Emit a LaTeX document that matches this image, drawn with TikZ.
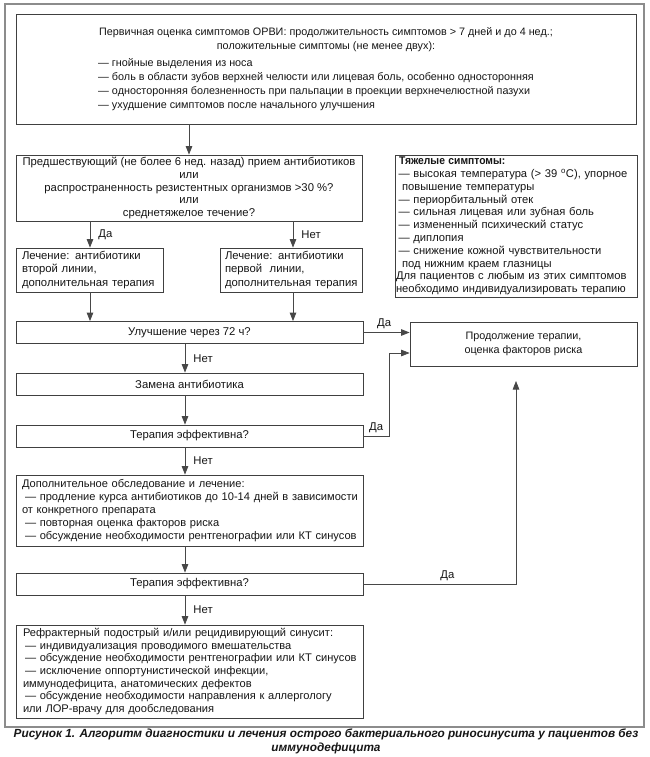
\documentclass[tikz,border=0pt]{standalone}
\usepackage{fontspec}
\usepackage{graphicx}
\setmainfont{Liberation Sans}
\usetikzlibrary{arrows.meta}
\definecolor{boxc}{HTML}{404040}
\definecolor{linec}{HTML}{474747}
\definecolor{framec}{HTML}{8C8C8C}
\definecolor{txtc}{HTML}{161616}
\newcommand\fs{\fontsize{11.3}{13.5}\selectfont}
\newcommand\fst{\fontsize{10.8}{13.8}\selectfont}
\newcommand\fsq{\fontsize{11.3}{12.6}\selectfont}
\newcommand\fsv{\fontsize{11.2}{12.8}\selectfont}
\newcommand\fsr{\fontsize{11.1}{13.2}\selectfont}
\newcommand\fsrr{\fontsize{11.1}{12.7}\selectfont}
\newcommand\fsc{\fontsize{10.8}{13.2}\selectfont}
\newcommand\fcap{\fontsize{11.8}{14}\selectfont\bfseries\itshape}
\begin{document}
\begin{tikzpicture}[x=1pt,y=-1pt,
  box/.style={draw=boxc, line width=0.8pt, inner sep=0pt, text=txtc, font=\fs},
  txt/.style={inner sep=0pt, text=txtc, font=\fst},
  arr/.style={draw=linec, line width=0.9pt, -{Triangle[length=8.5pt,width=6.5pt]}},
  thinarr/.style={draw=linec, line width=0.7pt, -{Triangle[length=8.5pt,width=6.5pt]}},
  lbl/.style={inner sep=0pt, text=txtc, font=\fs}]
\useasboundingbox (0,0) rectangle (650,757);
\fill[white] (0,0) rectangle (650,757);
% outer frame
\draw[framec, line width=1.6pt] (5,4) rectangle (644,727);

% top box
\node[box, minimum width=620, minimum height=110] (top) at (326,69) {};
\node[txt, align=center] (topA) at (326,39.5) {Первичная оценка симптомов ОРВИ: продолжительность симптомов > 7 дней и до 4 нед.;\\положительные симптомы (не менее двух):};
\node[txt, align=left, anchor=north west] (topB) at (98,58.5) {— гнойные выделения из носа\\— боль в области зубов верхней челюсти или лицевая боль, особенно односторонняя\\— односторонняя болезненность при пальпации в проекции верхнечелюстной пазухи\\— ухудшение симптомов после начального улучшения};

% question box
\node[box, font=\fsq, align=center, minimum width=346, minimum height=66] (q) at (189,188) {Предшествующий (не более 6 нед. назад) прием антибиотиков\\или\\распространенность резистентных организмов >30 \%?\\или\\среднетяжелое течение?};

% treatment boxes
\node[box, align=left, inner xsep=1pt, text width=145, minimum width=147, minimum height=44] (t2) at (89.5,270) {\hspace*{5pt}Лечение: антибиотики\\\hspace*{5pt}второй линии,\\\hspace*{5pt}дополнительная терапия};
\node[box, align=left, inner xsep=1pt, text width=140, minimum width=142, minimum height=44] (t1) at (291,270) {\hspace*{4pt}Лечение: антибиотики\\\hspace*{4pt}первой\ \ линии,\\\hspace*{4pt}дополнительная терапия};

% severe symptoms box
\node[box, font=\fsv, align=left, inner xsep=1pt, text width=240, minimum width=242, minimum height=142] (sev) at (516,226) {\hspace*{3pt}\scalebox{0.92}[1]{\bfseries Тяжелые симптомы:}\\
\hspace*{2.5pt}— высокая температура (> 39 \textsuperscript{o}C), упорное\\
\hspace*{6pt}повышение температуры\\
\hspace*{2.5pt}— периорбитальный отек\\
\hspace*{2.5pt}— сильная лицевая или зубная боль\\
\hspace*{2.5pt}— измененный психический статус\\
\hspace*{2.5pt}— диплопия\\
\hspace*{2.5pt}— снижение кожной чувствительности\\
\hspace*{6pt}под нижним краем глазницы\\
Для пациентов с любым из этих симптомов\\
необходимо индивидуализировать терапию};

% decision chain
\node[box, minimum width=347, minimum height=22] (imp) at (189.5,332.5) {Улучшение через 72 ч?};
\node[box, font=\fsc, align=center, minimum width=227, minimum height=44] (cont) at (523.5,344) {Продолжение терапии,\\оценка факторов риска};
\node[box, minimum width=347, minimum height=22] (repl) at (189.5,384) {Замена антибиотика};
\node[box, minimum width=347, minimum height=22] (eff1) at (189.5,436) {Терапия эффективна?};
\node[box, font=\fsr, align=left, inner xsep=1pt, text width=345, minimum width=347, minimum height=71] (add) at (189.5,510.5) {\hspace*{5pt}Дополнительное обследование и лечение:\\
\hspace*{8pt}— продление курса антибиотиков до 10-14 дней в зависимости\\
\hspace*{5pt}от конкретного препарата\\
\hspace*{8pt}— повторная оценка факторов риска\\
\hspace*{8pt}— обсуждение необходимости рентгенографии или КТ синусов};
\node[box, minimum width=347, minimum height=22] (eff2) at (189.5,584) {Терапия эффективна?};
\node[box, font=\fsrr, align=left, inner xsep=1pt, text width=345, minimum width=347, minimum height=93] (refr) at (189.5,671.5) {\hspace*{6pt}Рефрактерный подострый и/или рецидивирующий синусит:\\
\hspace*{8pt}— индивидуализация проводимого вмешательства\\
\hspace*{8pt}— обсуждение необходимости рентгенографии или КТ синусов\\
\hspace*{8pt}— исключение оппортунистической инфекции,\\
\hspace*{6pt}иммунодефицита, анатомических дефектов\\
\hspace*{8pt}— обсуждение необходимости направления к аллергологу\\
\hspace*{6pt}или ЛОР-врачу для дообследования};

% caption
\node[txt, font=\fcap, align=center] (cap) at (326,741.5) {Рисунок 1. Алгоритм диагностики и лечения острого бактериального риносинусита у пациентов без\\иммунодефицита};

% connectors
\draw[arr] (top.south -| 189,0) -- (q.north -| 189,0);
\draw[arr] (q.south -| 90,0) -- node[lbl, right=8pt] (da1) {Да} (t2.north -| 90,0);
\draw[arr] (q.south -| 293,0) -- node[lbl, right=8pt] (net1) {Нет} (t1.north -| 293,0);
\draw[arr] (t2.south -| 90,0) -- (imp.north -| 90,0);
\draw[arr] (t1.south -| 293,0) -- (imp.north -| 293,0);
\draw[arr] (imp.east) -- node[lbl, above=3pt, pos=0.45] (da2) {Да} (cont.west |- imp.east);
\draw[arr] (imp.south -| 185,0) -- node[lbl, right=8pt] (net2) {Нет} (repl.north -| 185,0);
\draw[arr] (repl.south -| 185,0) -- (eff1.north -| 185,0);
\coordinate (j1) at (389,353);
\draw[thinarr] (eff1.east) -- node[lbl, above=3pt, pos=0.5] (da3) {Да} (eff1.east -| j1) -- (j1) -- (cont.west |- j1);
\draw[arr] (eff1.south -| 185,0) -- node[lbl, right=8pt] (net3) {Нет} (add.north -| 185,0);
\draw[arr] (add.south -| 185,0) -- (eff2.north -| 185,0);
\coordinate (j2) at (516,584);
\coordinate (tip) at (516,381);
\draw[thinarr] (eff2.east) -- node[lbl, above=3pt, pos=0.55] (da4) {Да} (j2) -- (tip);
\draw[arr] (eff2.south -| 185,0) -- node[lbl, right=8pt] (net4) {Нет} (refr.north -| 185,0);
\end{tikzpicture}
\end{document}
